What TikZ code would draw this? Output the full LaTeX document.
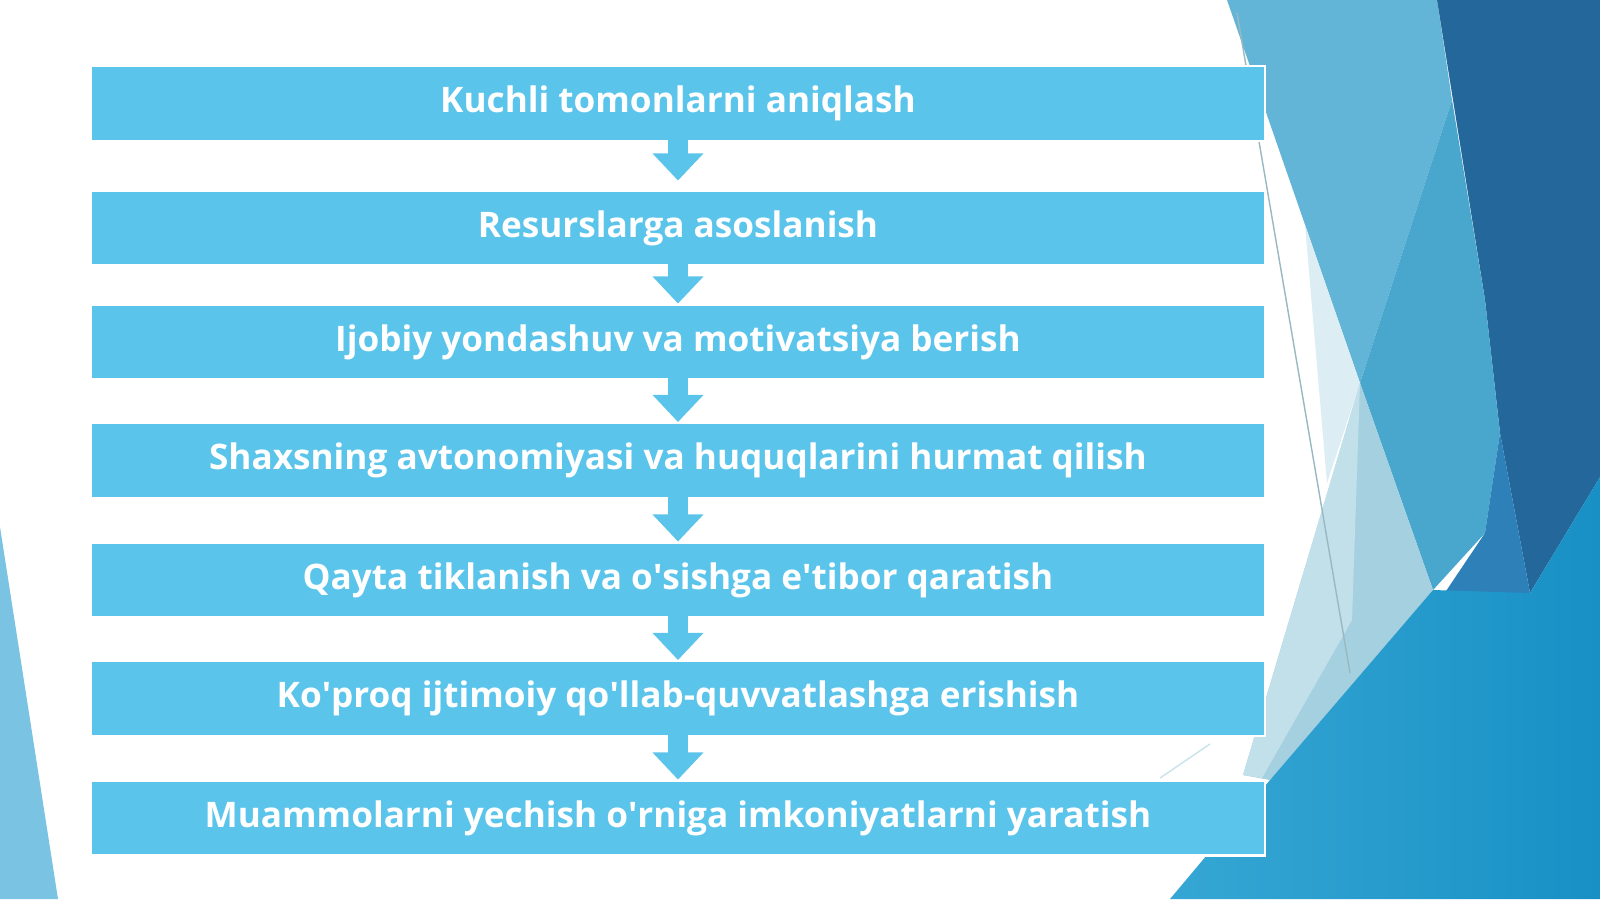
\documentclass[tikz,border=0pt]{standalone}
\usepackage{fontspec}
\setmainfont{Open Sans}
\usetikzlibrary{arrows.meta}

\definecolor{boxblue}{HTML}{5BC4EB}
\definecolor{sidelight}{HTML}{62B5D6}
\definecolor{sidemid}{HTML}{49A7CE}
\definecolor{sidedark}{HTML}{24679A}
\definecolor{sidestrip}{HTML}{2E80B9}
\definecolor{sidegray}{HTML}{A5D0DF}
\definecolor{sidepale}{HTML}{C2E0EA}
\definecolor{sidewhite}{HTML}{DCEEF4}
\definecolor{sidebright}{HTML}{36A7D4}
\definecolor{sidedeep}{HTML}{1890C5}
\definecolor{leftblue}{HTML}{7BC3E3}

\begin{document}
\begin{tikzpicture}[x=0.01cm,y=-0.01cm,
  flowbox/.style={fill=boxblue,draw=white,line width=0.6pt,minimum width=11.74cm,
    minimum height=0.75cm,inner sep=0pt,text=white,font=\fontsize{10}{12}\selectfont\bfseries},
  flowarrow/.style={draw=boxblue,line width=0.2cm,line cap=rect,
    -{Triangle[width=0.51cm,length=0.27cm,line width=0pt]}}]
\useasboundingbox (0,0) rectangle (1600,899);
\fill[white] (0,0) rectangle (1600,899);
% background
\fill[leftblue] (0,527) -- (58,899) -- (0,899) -- cycle;
\fill[sidelight] (1227,0) -- (1437,0) -- (1452,100) -- (1360,383) -- cycle;
\fill[sidedark] (1437,0) -- (1600,0) -- (1600,477) -- (1530,593) -- (1500,433) -- (1485,300) -- cycle;
\fill[sidemid] (1452,100) -- (1485,300) -- (1500,433) -- (1485,533) -- (1433,590) -- (1360,383) -- cycle;
\fill[sidestrip] (1500,433) -- (1530,593) -- (1440,600) -- (1485,533) -- cycle;
\fill[sidewhite] (1305,225) -- (1360,383) -- (1327,483) -- cycle;
\fill[sidegray] (1360,383) -- (1433,590) -- (1270,780) -- (1243,775) -- cycle;
\fill[sidepale] (1360,383) -- (1352,620) -- (1262,778) -- (1243,775) -- cycle;
\shade[left color=sidebright,right color=sidedeep]
  (1170,899) -- (1270,780) -- (1433,590) -- (1530,593) -- (1600,477) -- (1600,899) -- cycle;
\draw[sidegray!70!gray,line width=0.4pt] (1237,13) -- (1350,673);
\draw[sidegray!60,line width=0.4pt] (1210,744) -- (1160,778);
% steps
\node[flowbox] (b1) at (678,103.5) {Kuchli tomonlarni aniqlash};
\node[flowbox] (b2) at (678,228) {Resurslarga asoslanish};
\node[flowbox] (b3) at (678,342) {Ijobiy yondashuv va motivatsiya berish};
\node[flowbox] (b4) at (678,460.5) {Shaxsning avtonomiyasi va huquqlarini hurmat qilish};
\node[flowbox] (b5) at (678,580) {Qayta tiklanish va o\textquotesingle{}sishga e\textquotesingle{}tibor qaratish};
\node[flowbox] (b6) at (678,698.5) {Ko\textquotesingle{}proq ijtimoiy qo\textquotesingle{}llab-quvvatlashga erishish};
\node[flowbox] (b7) at (678,818) {Muammolarni yechish o\textquotesingle{}rniga imkoniyatlarni yaratish};
% arrows
\draw[flowarrow,shorten >=0.09cm] (b1.south) -- (b2.north);
\draw[flowarrow] (b2.south) -- (b3.north);
\draw[flowarrow] (b3.south) -- (b4.north);
\draw[flowarrow] (b4.south) -- (b5.north);
\draw[flowarrow] (b5.south) -- (b6.north);
\draw[flowarrow] (b6.south) -- (b7.north);
\end{tikzpicture}
\end{document}
